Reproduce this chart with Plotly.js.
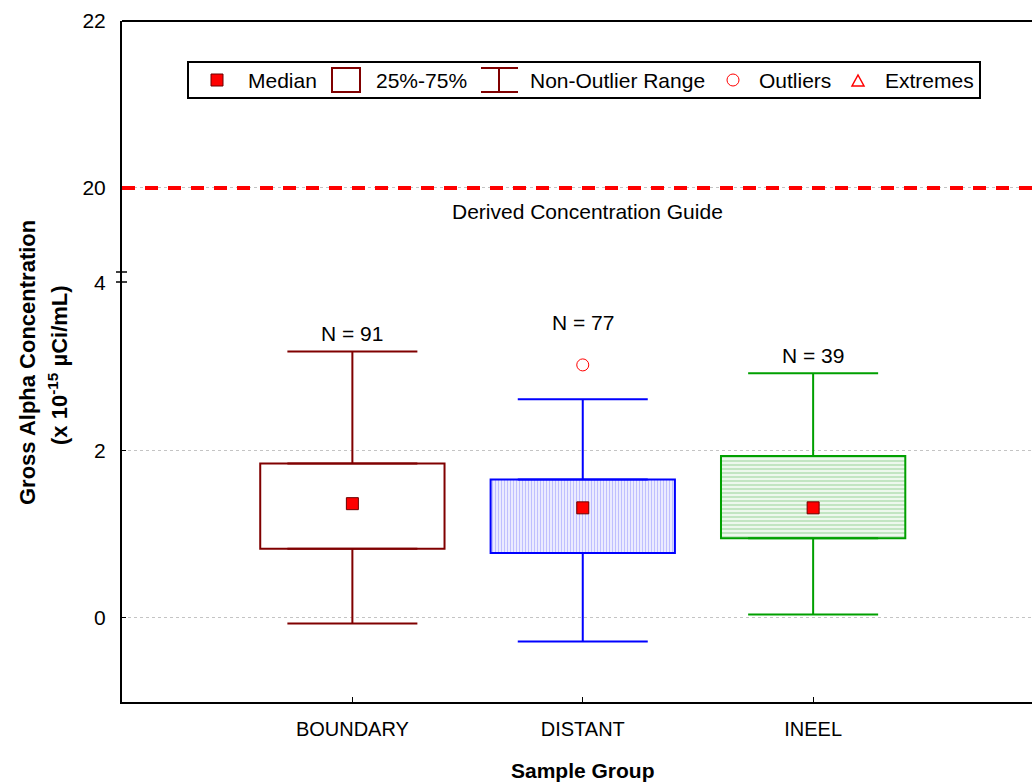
<!DOCTYPE html>
<html>
<head>
<meta charset="utf-8">
<script src="https://cdn.plot.ly/plotly-3.0.1.min.js"></script>
<style>
  html, body { margin: 0; padding: 0; background: #fff; }
  #chart { width: 1032px; height: 784px; }
</style>
</head>
<body>
<div id="chart"></div>
<script>
// ---- data ----
const categories = ['BOUNDARY', 'DISTANT', 'INEEL'];
const q1 = [0.82, 0.77, 0.945];
const q3 = [1.84, 1.65, 1.93];
const medians = [1.36, 1.31, 1.31];
const lowerWhisker = [-0.075, -0.29, 0.035];
const upperWhisker = [3.18, 2.61, 2.92];
const counts = [91, 77, 39];
const outlierGroup = [1];
const outlierValues = [3.02];
const dcgValue = 20;
const dcgLabel = 'Derived Concentration Guide';
const lowerTicks = [0, 2, 4];
const upperTicks = [20, 22];
const legendLabels = ['Median', '25%-75%', 'Non-Outlier Range', 'Outliers', 'Extremes'];

// ---- styles ----
const FONT = 'Arial, "Liberation Sans", sans-serif';
const lineColors = ['#800000', '#0000ff', '#00a000'];
const patShapes = ['', '|', '-'];
const patFg = ['#ffffff', '#7f7fff', '#86cc86'];
const W = 1032, H = 784, L = 122, R = 0, T = 21, B = 82;
const plotW = W - L - R, plotH = H - T - B;
const px = x => (x - L) / plotW;          // pixel -> paper x
const py = y => (H - B - y) / plotH;      // pixel -> paper y
const splitY = py(283);

const idx = categories.map((c, i) => i);
const traces = [];

// boxes (25%-75%)
traces.push({
  type: 'bar', x: idx, base: q1, y: q3.map((v, i) => v - q1[i]), width: 0.8,
  marker: {
    color: '#ffffff',
    line: { color: lineColors, width: 2 },
    pattern: { shape: patShapes, fgcolor: patFg, bgcolor: '#ffffff', size: [3, 3, 4], solidity: [0.5, 0.55, 0.65], fillmode: 'overlay' }
  },
  hoverinfo: 'skip', showlegend: false
});

// whiskers (non-outlier range)
idx.forEach(i => {
  traces.push({
    type: 'scatter', mode: 'markers', x: [i, i], y: [q3[i], q1[i]],
    marker: { opacity: 0, size: 1 },
    error_y: {
      type: 'data', symmetric: false,
      array: [upperWhisker[i] - q3[i], 0],
      arrayminus: [0, q1[i] - lowerWhisker[i]],
      width: 65, thickness: 2, color: lineColors[i]
    },
    hoverinfo: 'skip', showlegend: false
  });
});

// medians
traces.push({
  type: 'scatter', mode: 'markers', x: idx, y: medians,
  marker: { symbol: 'square', size: 12, color: '#ff0000', line: { color: '#6a0000', width: 1 } },
  hoverinfo: 'skip', showlegend: false
});

// outliers
traces.push({
  type: 'scatter', mode: 'markers', x: outlierGroup, y: outlierValues,
  marker: { symbol: 'circle-open', size: 12, color: '#ff0000', line: { width: 1 } },
  hoverinfo: 'skip', showlegend: false
});

// ---- annotations ----
const annotations = [];
idx.forEach(i => {
  const outs = outlierValues.filter((v, k) => outlierGroup[k] === i);
  const top = Math.max(upperWhisker[i], ...outs);
  annotations.push({
    x: i, y: top, xref: 'x', yref: 'y', text: 'N = ' + counts[i], showarrow: false,
    yanchor: 'middle', yshift: outs.length ? 42 : 18, font: { family: FONT, size: 21, color: '#000' }
  });
});
annotations.push({
  x: px(587), xref: 'paper', y: dcgValue, yref: 'y2', yshift: -24, yanchor: 'middle',
  text: dcgLabel, showarrow: false, font: { family: FONT, size: 21, color: '#000' }
});
annotations.push({
  x: px(583), xref: 'paper', y: py(771), yref: 'paper', text: '<b>Sample Group</b>', showarrow: false,
  xanchor: 'center', yanchor: 'middle', font: { family: FONT, size: 21, color: '#000' }
});
annotations.push({
  x: px(27), xref: 'paper', y: py(363), yref: 'paper', text: '<b>Gross Alpha Concentration</b>', textangle: -90,
  showarrow: false, xanchor: 'center', yanchor: 'middle', font: { family: FONT, size: 22, color: '#000' }
});
annotations.push({
  x: px(58), xref: 'paper', y: py(365), yref: 'paper', text: '<b>(x 10<sup>-15</sup> µCi/mL)</b>', textangle: -90,
  showarrow: false, xanchor: 'center', yanchor: 'middle', font: { family: FONT, size: 22, color: '#000' }
});

// ---- legend (drawn manually) ----
const legTextX = [246, 374, 528, 757, 883];
legendLabels.forEach((t, k) => {
  annotations.push({
    x: px(legTextX[k]), xref: 'paper', y: py(80), yref: 'paper', text: t, showarrow: false,
    xanchor: 'left', yanchor: 'middle', font: { family: FONT, size: 21, color: '#000' }
  });
});

const shapes = [];
// top frame line
shapes.push({ type: 'line', xref: 'paper', yref: 'paper', x0: 0, x1: 1, y0: 1, y1: 1, line: { color: '#000', width: 2 } });
// axis break marks
[272, 282].forEach(yy => shapes.push({
  type: 'line', xref: 'paper', yref: 'paper', x0: px(116), x1: px(127), y0: py(yy), y1: py(yy), line: { color: '#000', width: 1.5 }
}));
// DCG dashed line
shapes.push({
  type: 'line', xref: 'paper', yref: 'y2', x0: 0, x1: 1, y0: dcgValue, y1: dcgValue,
  line: { color: '#ff0000', width: 4, dash: '13px,10px' }
});
// legend frame
shapes.push({ type: 'rect', xref: 'paper', yref: 'paper', x0: px(188), x1: px(980), y0: py(62), y1: py(98),
  line: { color: '#000', width: 2 }, fillcolor: '#ffffff', layer: 'below' });
// legend: median square
shapes.push({ type: 'rect', xref: 'paper', yref: 'paper', x0: px(211), x1: px(223), y0: py(74), y1: py(86),
  line: { color: '#6a0000', width: 1 }, fillcolor: '#ff0000' });
// legend: box
shapes.push({ type: 'rect', xref: 'paper', yref: 'paper', x0: px(332), x1: px(360), y0: py(68), y1: py(92),
  line: { color: '#800000', width: 2 } });
// legend: I-beam
shapes.push({ type: 'line', xref: 'paper', yref: 'paper', x0: px(499), x1: px(499), y0: py(68), y1: py(92), line: { color: '#800000', width: 2 } });
shapes.push({ type: 'line', xref: 'paper', yref: 'paper', x0: px(481), x1: px(518), y0: py(68), y1: py(68), line: { color: '#800000', width: 2 } });
shapes.push({ type: 'line', xref: 'paper', yref: 'paper', x0: px(481), x1: px(518), y0: py(92), y1: py(92), line: { color: '#800000', width: 2 } });
// legend: outlier circle
shapes.push({ type: 'circle', xref: 'paper', yref: 'paper', x0: px(727), x1: px(739), y0: py(74), y1: py(86),
  line: { color: '#ff0000', width: 1 } });
// legend: extreme triangle
shapes.push({ type: 'path', xref: 'paper', yref: 'paper',
  path: `M ${px(852)},${py(86)} L ${px(864)},${py(86)} L ${px(858)},${py(75)} Z`,
  line: { color: '#ff0000', width: 1.5 } });

const axisFont = { family: FONT, size: 21, color: '#000' };
const layout = {
  width: W, height: H,
  margin: { l: L, r: R, t: T, b: B, pad: 0 },
  paper_bgcolor: '#ffffff', plot_bgcolor: '#ffffff',
  showlegend: false,
  font: { family: FONT, color: '#000' },
  xaxis: {
    range: [-1, 2.95], tickvals: idx, ticktext: categories,
    ticks: 'inside', ticklen: 5, tickwidth: 1, tickcolor: '#000',
    showgrid: false, zeroline: false, showline: true, linecolor: '#000', linewidth: 2,
    tickfont: { family: FONT, size: 20, color: '#000' }, ticklabelstandoff: 8,
    anchor: 'y'
  },
  yaxis: {
    domain: [0, splitY], range: [-1.013, 4], tickvals: lowerTicks,
    ticks: 'inside', ticklen: 4, tickcolor: '#000',
    showgrid: true, gridcolor: '#c4c4c4', griddash: 'dot', gridwidth: 1,
    zeroline: false, showline: true, linecolor: '#000', linewidth: 2,
    tickfont: axisFont, ticklabelstandoff: 10, anchor: 'x'
  },
  yaxis2: {
    domain: [splitY, 1], range: [18.862, 22], tickvals: upperTicks,
    ticks: 'inside', ticklen: 4, tickcolor: '#000',
    showgrid: true, gridcolor: '#c4c4c4', griddash: 'dot', gridwidth: 1,
    zeroline: false, showline: true, linecolor: '#000', linewidth: 2,
    tickfont: axisFont, ticklabelstandoff: 10, anchor: 'x'
  },
  annotations: annotations,
  shapes: shapes
};

Plotly.newPlot('chart', traces, layout, { staticPlot: true, displayModeBar: false });
</script>
</body>
</html>
